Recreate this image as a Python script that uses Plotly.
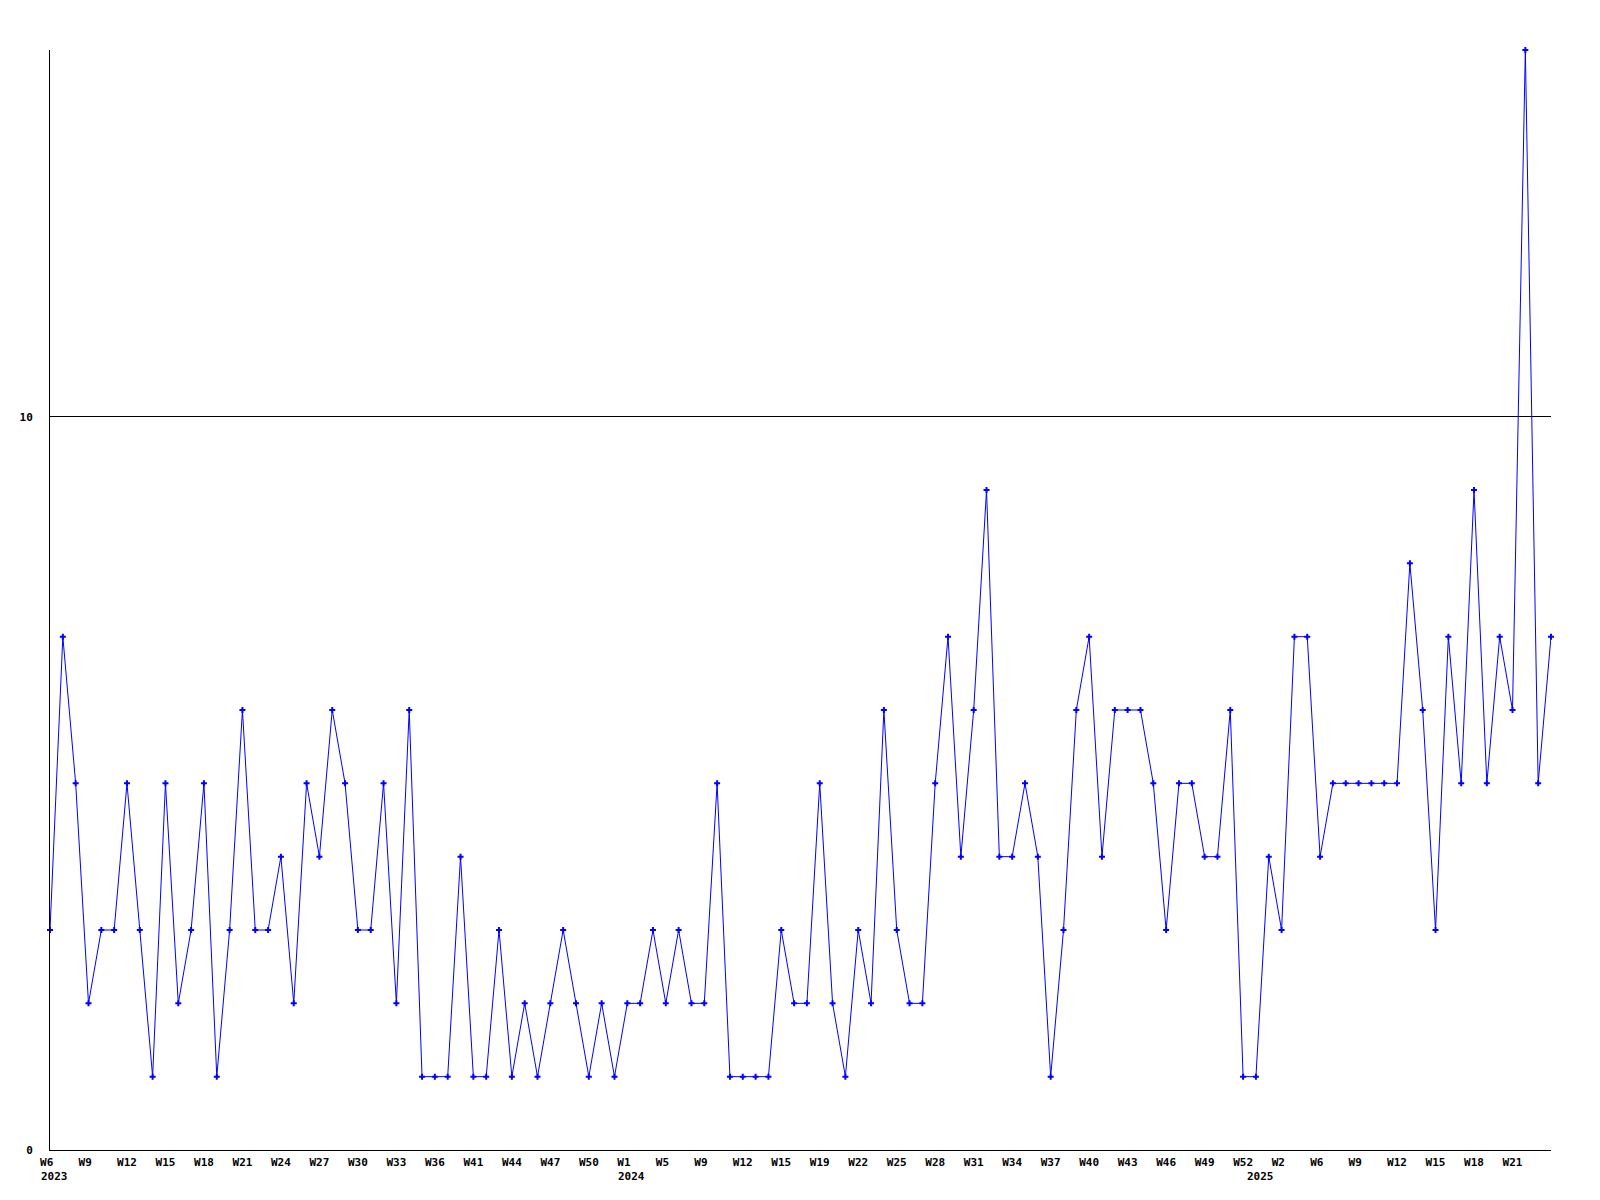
import plotly.graph_objects as go

# ---- categories (ISO-like week numbers per year) ----
weeks_2023 = list(range(6, 37)) + [39, 40] + list(range(41, 53))
weeks_2024 = [1, 3, 4, 5, 7, 8] + list(range(9, 16)) + [17, 18] + list(range(19, 53))
weeks_2025 = [0, 1, 2, 3, 5] + list(range(6, 25))

categories = ([f"2023-W{w:02d}" for w in weeks_2023]
              + [f"2024-W{w:02d}" for w in weeks_2024]
              + [f"2025-W{w:02d}" for w in weeks_2025])

# ---- series values ----
values = [
    3, 7, 5, 2, 3, 3, 5, 3, 1, 5, 2, 3, 5, 1, 3, 6, 3, 3, 4, 2,
    5, 4, 6, 5, 3, 3, 5, 2, 6, 1, 1, 1, 4, 1, 1, 3, 1, 2, 1, 2,
    3, 2, 1, 2, 1, 2, 2, 3, 2, 3, 2, 2, 5, 1, 1, 1, 1, 3, 2, 2,
    5, 2, 1, 3, 2, 6, 3, 2, 2, 5, 7, 4, 6, 9, 4, 4, 5, 4, 1, 3,
    6, 7, 4, 6, 6, 6, 5, 3, 5, 5, 4, 4, 6, 1, 1, 4, 3, 7, 7, 4,
    5, 5, 5, 5, 5, 5, 8, 6, 3, 7, 5, 9, 5, 7, 6, 15, 5, 7,
]

# ---- tick labels ----
tick_cats = [
    "2023-W06", "2023-W09", "2023-W12", "2023-W15", "2023-W18", "2023-W21",
    "2023-W24", "2023-W27", "2023-W30", "2023-W33", "2023-W36", "2023-W41",
    "2023-W44", "2023-W47", "2023-W50", "2024-W01", "2024-W05", "2024-W09",
    "2024-W12", "2024-W15", "2024-W19", "2024-W22", "2024-W25", "2024-W28",
    "2024-W31", "2024-W34", "2024-W37", "2024-W40", "2024-W43", "2024-W46",
    "2024-W49", "2024-W52", "2025-W02", "2025-W06", "2025-W09", "2025-W12",
    "2025-W15", "2025-W18", "2025-W21",
]
tick_labels = [
    "W6", "W9", "W12", "W15", "W18", "W21",
    "W24", "W27", "W30", "W33", "W36", "W41",
    "W44", "W47", "W50", "W1", "W5", "W9",
    "W12", "W15", "W19", "W22", "W25", "W28",
    "W31", "W34", "W37", "W40", "W43", "W46",
    "W49", "W52", "W2", "W6", "W9", "W12",
    "W15", "W18", "W21",
]
year_cats = ["2023-W06", "2024-W01", "2025-W00"]
year_labels = ["2023", "2024", "2025"]

font = dict(family="DejaVu Sans Mono", size=11, color="black", weight="bold")

# labels in the reference are left-aligned 10px before the tick;
# pad to 3 monospace chars so a centred label starts at the same spot
padded = [t + "\u00a0" * (3 - len(t)) for t in tick_labels]

fig = go.Figure()
fig.add_trace(go.Scatter(
    x=categories, y=values, mode="lines+markers",
    line=dict(color="#0000FF", width=1),
    marker=dict(symbol="cross", size=5, color="#0000FF"),
    cliponaxis=False, showlegend=False,
))

for c, t in zip(year_cats, year_labels):
    fig.add_annotation(
        x=c, y=0, xref="x", yref="paper", text=t, showarrow=False,
        xanchor="left", yanchor="middle", xshift=-11, yshift=-26.5,
        font=font,
    )

fig.update_layout(
    width=1600, height=1200,
    margin=dict(l=42, r=57, t=42, b=58),
    paper_bgcolor="white", plot_bgcolor="white",
    font=font,
    xaxis=dict(
        type="category", categoryorder="array", categoryarray=categories,
        range=[0, len(categories) - 1],
        tickmode="array", tickvals=tick_cats, ticktext=padded,
        tickangle=0, ticks="", showgrid=False, zeroline=False,
        showline=True, linecolor="black", linewidth=1,
        ticklabelstandoff=2, tickfont=font,
    ),
    yaxis=dict(
        range=[0, 15], tickmode="array", tickvals=[0, 10], ticktext=["0", "10"],
        showgrid=True, gridcolor="black", gridwidth=1, zeroline=False,
        showline=True, linecolor="black", linewidth=1, ticks="",
        ticklabelstandoff=14, tickfont=font,
    ),
)

fig.write_html("out.html")
